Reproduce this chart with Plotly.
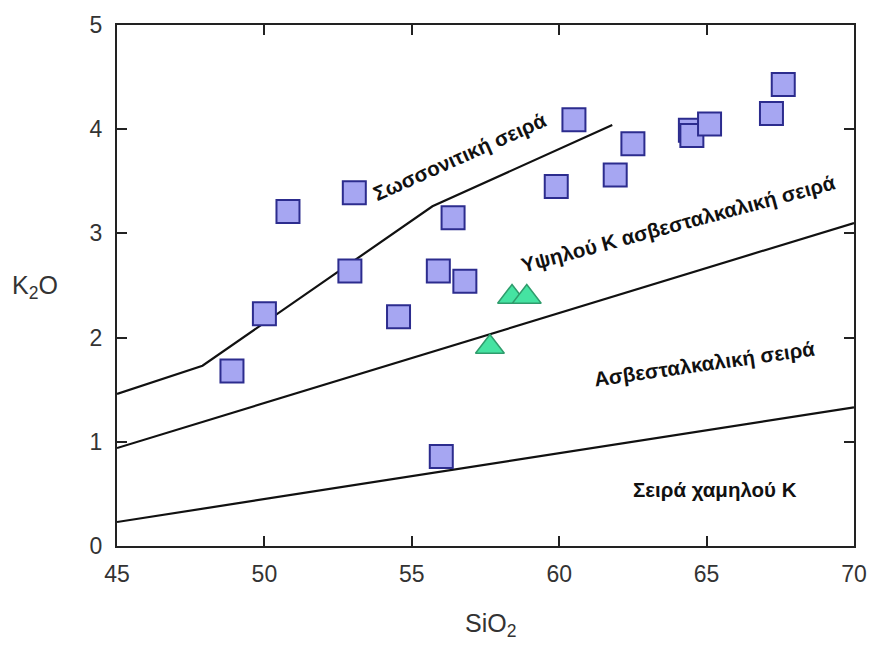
import plotly.graph_objects as go

# Sample analyses (SiO2 wt%, K2O wt%)
rock_sio2 = [48.9, 50.0, 50.8, 52.9, 53.05, 54.55, 56.4, 55.9, 56.8, 56.0,
             59.9, 60.5, 61.9, 62.5, 64.45, 64.5, 65.1, 67.2, 67.6]
rock_k2o = [1.68, 2.23, 3.21, 2.64, 3.39, 2.20, 3.15, 2.64, 2.54, 0.86,
            3.45, 4.09, 3.56, 3.86, 3.99, 3.94, 4.05, 4.15, 4.43]

tri_sio2 = [58.4, 58.9, 57.65]
tri_k2o = [2.39, 2.39, 1.91]

# Series boundaries (Peccerillo & Taylor type)
shosho_x = [45, 47.9, 55.7, 61.8]
shosho_y = [1.46, 1.73, 3.26, 4.04]
highk_x = [45, 70]
highk_y = [0.94, 3.10]
lowk_x = [45, 70]
lowk_y = [0.23, 1.33]

x_ticks = [45, 50, 55, 60, 65, 70]
y_ticks = [0, 1, 2, 3, 4, 5]

fig = go.Figure()
for bx, by in [(shosho_x, shosho_y), (highk_x, highk_y), (lowk_x, lowk_y)]:
    fig.add_trace(go.Scatter(x=bx, y=by, mode="lines",
                             line=dict(color="#111111", width=2.2),
                             hoverinfo="skip", showlegend=False))

fig.add_trace(go.Scatter(x=rock_sio2, y=rock_k2o, mode="markers",
                         marker=dict(symbol="square", size=23, color="#a6a6f2",
                                     line=dict(color="#2c2c8e", width=2)),
                         showlegend=False))
fig.add_trace(go.Scatter(x=tri_sio2, y=tri_k2o, mode="markers",
                         marker=dict(symbol="triangle-up", size=25, color="#45e3a2",
                                     line=dict(color="#2f9c6c", width=1.5)),
                         showlegend=False))

label_font = dict(family="Liberation Sans, Arial, sans-serif", size=20.5, color="#111111")
series_labels = [
    ("<b>Σωσσονιτική σειρά</b>", 463, 156, -24),
    ("<b>Υψηλού Κ ασβεσταλκαλική σειρά</b>", 684, 223, -15),
    ("<b>Ασβεσταλκαλική σειρά</b>", 711, 363, -8),
    ("<b>Σειρά χαμηλού Κ</b>", 721, 489, 0),
]

W, H = 879, 650
L, R, T, B = 117, 17, 25, 104
pw, ph = W - L - R, H - T - B

def px_to_paper(px, py):
    return (px - L) / pw, (H - B - py) / ph

for txt, px, py, ang in series_labels:
    xp, yp = px_to_paper(px, py)
    fig.add_annotation(text=txt, x=xp, y=yp, xref="paper", yref="paper",
                       showarrow=False, textangle=ang, font=label_font,
                       xanchor="center", yanchor="middle")

title_font = dict(family="Liberation Sans, Arial, sans-serif", size=25, color="#333333")
xp, yp = px_to_paper(495, 625)
fig.add_annotation(text="SiO<sub>2</sub>", x=xp, y=yp, xref="paper", yref="paper",
                   showarrow=False, font=title_font, xanchor="center", yanchor="middle")
xp, yp = px_to_paper(34, 287)
fig.add_annotation(text="K<sub>2</sub>O", x=xp, y=yp, xref="paper", yref="paper",
                   showarrow=False, font=title_font, xanchor="center", yanchor="middle")

axis_common = dict(showline=True, linecolor="#222222", linewidth=2, mirror="ticks",
                   ticks="inside", ticklen=10, tickwidth=1.5, tickcolor="#222222",
                   showgrid=False, zeroline=False,
                   tickfont=dict(family="Liberation Sans, Arial, sans-serif", size=23,
                                 color="#333333"))

fig.update_xaxes(range=[45, 70], tickvals=x_ticks, ticklabelstandoff=6, **axis_common)
fig.update_yaxes(range=[0, 5], tickvals=y_ticks, ticklabelstandoff=8, **axis_common)

fig.update_layout(width=W, height=H, margin=dict(l=L, r=R, t=T, b=B),
                  plot_bgcolor="white", paper_bgcolor="white")

fig.write_html("out.html")
